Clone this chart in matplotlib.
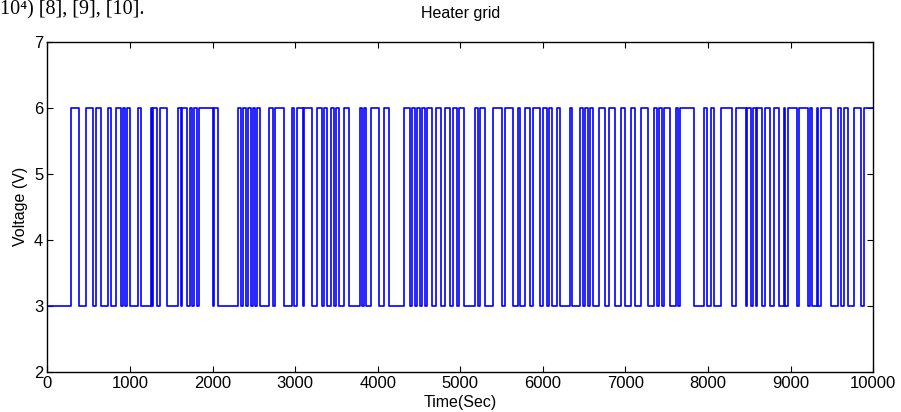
import numpy as np
import matplotlib.pyplot as plt

# switching instants of the heater grid voltage (s), first one goes 3 V -> 6 V
switch_times = [
    281, 378, 463, 548, 592, 645, 737, 770, 830, 887, 919, 939, 964, 1000,
    1093, 1130, 1251, 1267, 1283, 1323, 1364, 1452, 1578, 1614, 1634, 1695,
    1727, 1752, 1776, 1808, 1840, 2002, 2022, 2063, 2305, 2345, 2366, 2406,
    2426, 2467, 2487, 2519, 2543, 2576, 2689, 2737, 2754, 2870, 2960, 2992,
    3020, 3093, 3113, 3202, 3263, 3323, 3352, 3384, 3436, 3465, 3497, 3537,
    3586, 3658, 3780, 3808, 3828, 3861, 3917, 4010, 4071, 4139, 4313, 4394,
    4414, 4446, 4475, 4515, 4535, 4576, 4596, 4657, 4709, 4770, 4818, 4879,
    4911, 4960, 4980, 5040, 5182, 5214, 5242, 5303, 5396, 5505, 5545, 5639,
    5699, 5727, 5788, 5848, 5881, 5970, 6002, 6051, 6075, 6111, 6172, 6212,
    6333, 6358, 6446, 6487, 6507, 6543, 6567, 6608, 6676, 6758, 6806, 6870,
    6952, 7000, 7073, 7113, 7194, 7270, 7343, 7384, 7404, 7445, 7473, 7537,
    7618, 7634, 7659, 7828, 7949, 7990, 8038, 8079, 8160, 8293, 8342, 8455,
    8475, 8527, 8548, 8576, 8596, 8657, 8689, 8749, 8798, 8858, 8919, 8939,
    8972, 9081, 9101, 9210, 9242, 9263, 9315, 9331, 9372, 9485, 9573, 9606,
    9646, 9699, 9767, 9848, 9888,
]
low_level = 3
high_level = 6
t_end = 10000

xticks = np.arange(0, 10001, 1000)
yticks = [2, 3, 4, 5, 6, 7]

# build the square wave
t = [0] + switch_times + [t_end]
v = []
level = low_level
for i in range(len(t) - 1):
    v.append(level)
    level = high_level if level == low_level else low_level
v.append(v[-1])

plt.rcParams['font.family'] = ['Liberation Sans', 'DejaVu Sans']

fig = plt.figure(figsize=(9.01, 4.12), dpi=100)
ax = fig.add_axes([0.0527, 0.097, 0.9163, 0.802])

ax.step(t, v, where='post', color='#0000ff', linewidth=1.2)

ax.set_xlim(0, 10000)
ax.set_ylim(2, 7)
ax.set_xticks(xticks)
ax.set_yticks(yticks)
ax.tick_params(direction='in', top=True, right=True, length=4, width=0.8,
               labelsize=12, pad=3)
for s in ax.spines.values():
    s.set_linewidth(1.0)

ax.set_title('Heater grid', fontsize=11.5, pad=17)
ax.set_xlabel('Time(Sec)', fontsize=11.5, labelpad=3)
ax.set_ylabel('Voltage (V)', fontsize=11.5, labelpad=4)

# leftover line of the surrounding text along the top edge
fig.text(0.0, 1.0, '10\u2074) [8], [9], [10].', fontsize=14.5,
         family='Liberation Serif', va='top', ha='left')

fig.savefig('out.png', dpi=100)
